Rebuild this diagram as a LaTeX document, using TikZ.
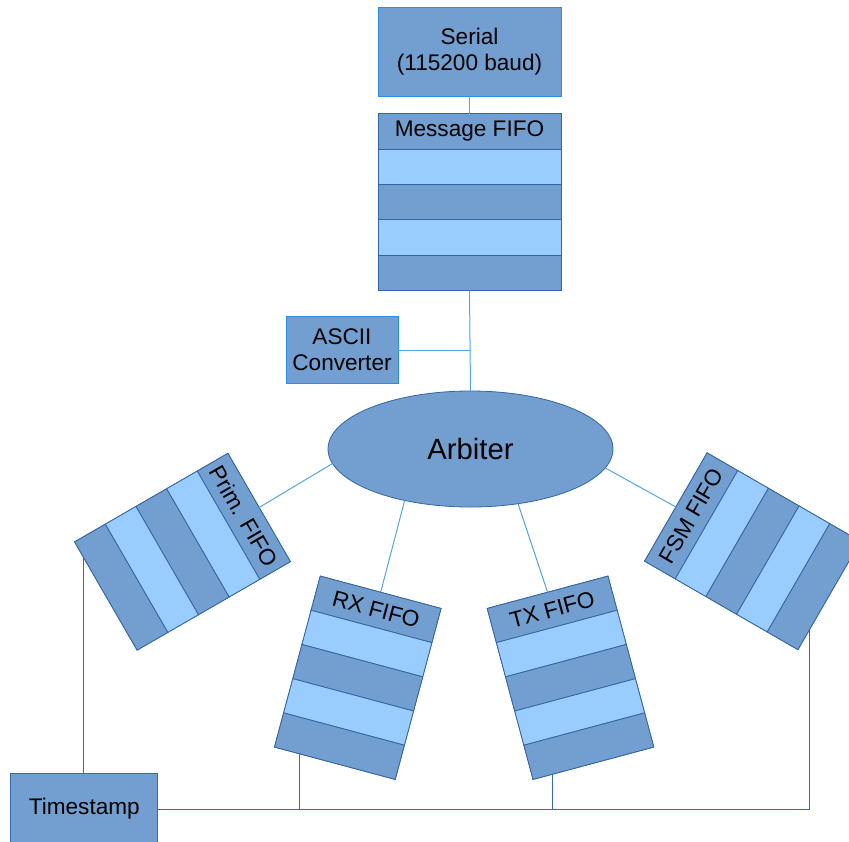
\documentclass[tikz,border=0pt]{standalone}
\usepackage{fontspec}
\setmainfont{Liberation Sans}
\usetikzlibrary{shapes.geometric,calc}
\definecolor{darkfill}{HTML}{729FCF}
\definecolor{lightfill}{HTML}{99CCFF}
\definecolor{fifoborder}{RGB}{52,101,164}
\definecolor{brightborder}{RGB}{38,143,230}
\definecolor{lightline}{RGB}{85,165,228}
\definecolor{darkline}{RGB}{60,100,190}
\tikzset{
  basefont/.style={font=\fontsize{22.6}{26}\selectfont},
  topbox/.style={draw=brightborder, fill=darkfill, line width=1pt, inner sep=0pt, outer sep=0pt, align=center, basefont},
  tsbox/.style={draw=darkline, fill=darkfill, line width=1pt, inner sep=0pt, outer sep=0pt, align=center, basefont},
  fifoframe/.style={draw=fifoborder, fill=darkfill, line width=0.8pt, inner sep=0pt, outer sep=0pt, minimum height=177pt},
  stripe/.style={draw=fifoborder, line width=0.8pt},
  fifolabel/.style={basefont, inner sep=0pt},
  arbshape/.style={ellipse, draw=fifoborder, fill=darkfill, line width=0.8pt, inner sep=0pt, outer sep=0pt, minimum width=285pt, minimum height=116pt, font=\fontsize{29.3}{34}\selectfont},
  lightconn/.style={draw=lightline, line width=1pt},
  darkconn/.style={draw=darkline, line width=1pt},
}
% name, x, y, angle, width, label
\newcommand\fifobox[6]{%
  \begin{scope}[shift={(#2,#3)}, rotate=#4]
    \node[fifoframe, minimum width=#5, rotate=#4] (#1) at (0,0) {};
    \pgfmathsetmacro\hw{#5/2}
    \fill[darkfill, stripe] (-\hw, 88.5) rectangle (\hw, 53.1);
    \fill[lightfill, stripe] (-\hw, 53.1) rectangle (\hw, 17.7);
    \fill[darkfill, stripe] (-\hw, 17.7) rectangle (\hw, -17.7);
    \fill[lightfill, stripe] (-\hw, -17.7) rectangle (\hw, -53.1);
    \fill[darkfill, stripe] (-\hw, -53.1) rectangle (\hw, -88.5);
    \node[fifolabel, rotate=#4] (#1-label) at (0, 70.8) {#6};
  \end{scope}}
\begin{document}
\begin{tikzpicture}[x=1pt, y=1pt]
  \useasboundingbox (0,0) rectangle (849,-841);
  \clip (0,0) rectangle (849,-841);

  \node[topbox, minimum width=183pt, minimum height=89pt] (serial) at (469.5,-52) {Serial\\(115200 baud)};
  \fifobox{msg}{469.5}{-202}{0}{183}{Message FIFO}
  \node[topbox, minimum width=112pt, minimum height=67pt] (ascii) at (342,-350) {ASCII\\Converter};
  \node[arbshape] (arb) at (470.5,-449) {Arbiter};

  \fifobox{prim}{182.5}{-551.75}{-60}{125}{Prim. FIFO}
  \fifobox{rx}{357.75}{-677.75}{-15}{125}{RX FIFO}
  \fifobox{tx}{570.5}{-677.75}{15}{125}{TX FIFO}
  \fifobox{fsm}{752.5}{-551.25}{60}{125}{FSM FIFO}

  \node[tsbox, minimum width=147pt, minimum height=72pt] (ts) at (84.3,-809) {Timestamp};

  % top connectors
  \draw[lightconn] (serial.south) -- (msg.north);
  \draw[lightconn] (msg.south) -- (arb.north);
  \draw[lightconn] (ascii.east) -- (ascii.east -| arb.north);

  % arbiter to FIFOs
  \draw[lightconn] (arb.186.2) -- (prim.north);
  \draw[lightconn] (arb.218.8) -- (rx.north);
  \draw[lightconn] (arb.311.9) -- (tx.north);
  \draw[lightconn] (arb.352.7) -- (fsm.north);

  % bottom connectors to timestamp
  \coordinate (pa) at ($(prim.south west)!0.15!(prim.south east)$);
  \coordinate (pr) at ($(rx.south west)!0.21!(rx.south east)$);
  \coordinate (pt) at ($(tx.south west)!0.16!(tx.south east)$);
  \coordinate (pf) at ($(fsm.south west)!0.18!(fsm.south east)$);
  \draw[darkconn] (pa) -- (pa |- ts.north);
  \draw[darkconn] (ts.east) -- (pf |- ts.east) -- (pf);
  \draw[darkconn] (pr) -- (pr |- ts.east);
  \draw[darkconn] (pt) -- (pt |- ts.east);
\end{tikzpicture}
\end{document}
